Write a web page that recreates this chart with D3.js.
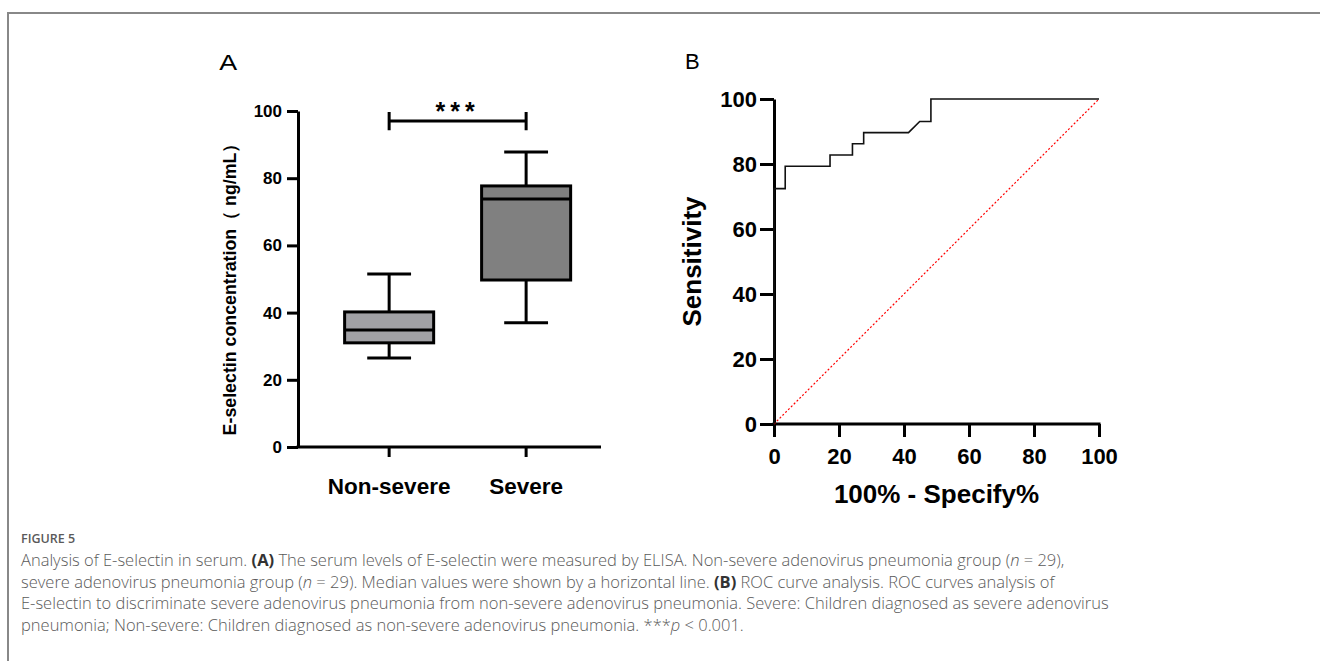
<!DOCTYPE html>
<html>
<head>
<meta charset="utf-8">
<script src="https://cdn.jsdelivr.net/npm/d3@7"></script>
<style>
	body{margin:0;background:#fff;}
	svg{display:block;}
	.axis text{font-family:'Liberation Sans',Arial,sans-serif;font-weight:bold;fill:#000;}
	.caption{font-family:'Open Sans',sans-serif;fill:#5a5a5a;}
</style>
</head>
<body>
<svg id="fig" width="1320" height="661"></svg>
<script>
// panel A - box plot
var groups = ['Non-severe','Severe'];
var whiskerLow = [26.5, 37.0];
var q1 = [31.0, 49.7];
var median = [34.8, 73.8];
var q3 = [40.2, 77.7];
var whiskerHigh = [51.5, 87.8];
var sigValue = 97;
var sigLabel = '***';
var boxTicks = [0,20,40,60,80,100];

// panel B - ROC curve
var rocFpr = [0,0,3.45,3.45,17.24,17.24,24.14,24.14,27.59,27.59,41.38,44.83,48.28,48.28,100];
var rocTpr = [0,72.41,72.41,79.31,79.31,82.76,82.76,86.21,86.21,89.66,89.66,93.10,93.10,100,100];
var rocTicks = [0,20,40,60,80,100];

var captionLines = [
	[['Analysis of E-selectin in serum. ',''],['(A)','b'],[' The serum levels of E-selectin were measured by ELISA. Non-severe adenovirus pneumonia group (',''],['n','i'],[' = 29),','']],
	[['severe adenovirus pneumonia group (',''],['n','i'],[' = 29). Median values were shown by a horizontal line. ',''],['(B)','b'],[' ROC curve analysis. ROC curves analysis of','']],
	[['E-selectin to discriminate severe adenovirus pneumonia from non-severe adenovirus pneumonia. Severe: Children diagnosed as severe adenovirus','']],
	[['pneumonia; Non-severe: Children diagnosed as non-severe adenovirus pneumonia. ***',''],['p','i'],[' < 0.001.','']]
];

var svg = d3.select('#fig');

// frame
svg.append('path')
	.attr('d','M8,661V13H1320')
	.attr('fill','none')
	.attr('stroke','#888')
	.attr('stroke-width',2);

//==== panel A
var yA = d3.scaleLinear().domain([0,100]).range([447,111]);
var xA = d3.scaleBand().domain(groups).range([298,601]).paddingInner(0).paddingOuter(0.106).align(0.78);
var boxColor = d3.scaleOrdinal().domain(groups).range(['#a1a1a5','#808080']);

var boxData = groups.map(function(g,i){
	return {g:g, lo:whiskerLow[i], q1:q1[i], med:median[i], q3:q3[i], hi:whiskerHigh[i]};
});

var panelA = svg.append('g');

panelA.append('text')
	.text('A')
	.attr('x',219).attr('y',70)
	.attr('font-family','Liberation Sans, Arial, sans-serif')
	.attr('font-size',22)
	.attr('transform','translate(-48,0) scale(1.22,1)');

var yAxisA = panelA.append('g')
	.attr('class','axis')
	.attr('transform','translate(298,0)')
	.call(d3.axisLeft(yA).tickValues(boxTicks).tickSize(11).tickPadding(5).tickSizeOuter(0));
yAxisA.selectAll('path,line').attr('stroke','#000').attr('stroke-width',3);
yAxisA.selectAll('text').attr('font-size',17);

var xAxisA = panelA.append('g')
	.attr('class','axis')
	.attr('transform','translate(0,447)')
	.call(d3.axisBottom(xA).tickSize(10).tickSizeOuter(0).tickPadding(21));
xAxisA.selectAll('path,line').attr('stroke','#000').attr('stroke-width',3);
xAxisA.select('.domain').attr('d','M'+(xA.range()[0]-1.5)+',0H'+xA.range()[1]);
xAxisA.selectAll('text').attr('font-size',22.5).attr('dy','0.71em');

panelA.append('text')
	.text('E-selectin concentration\uFF08 ng/mL\uFF09')
	.attr('transform','translate(236,285) rotate(-90)')
	.attr('text-anchor','middle')
	.attr('font-family','Liberation Sans, Arial, sans-serif')
	.attr('font-weight','bold')
	.attr('font-size',17.8);

var boxW = xA.bandwidth()*0.65;
var capW = xA.bandwidth()*0.32;

var boxes = panelA.selectAll('.box')
	.data(boxData)
	.enter()
	.append('g')
	.attr('class','box')
	.attr('transform',function(d){return 'translate('+(xA(d.g)+xA.bandwidth()/2)+',0)';});

boxes.append('line')
	.attr('x1',0).attr('x2',0)
	.attr('y1',function(d){return yA(d.lo);})
	.attr('y2',function(d){return yA(d.hi);})
	.attr('stroke','#000').attr('stroke-width',3);

boxes.selectAll('.cap')
	.data(function(d){return [d.lo,d.hi];})
	.enter()
	.append('line')
	.attr('class','cap')
	.attr('x1',-capW/2).attr('x2',capW/2)
	.attr('y1',function(v){return yA(v);})
	.attr('y2',function(v){return yA(v);})
	.attr('stroke','#000').attr('stroke-width',3);

boxes.append('rect')
	.attr('x',-boxW/2)
	.attr('width',boxW)
	.attr('y',function(d){return yA(d.q3);})
	.attr('height',function(d){return yA(d.q1)-yA(d.q3);})
	.attr('fill',function(d){return boxColor(d.g);})
	.attr('stroke','#000').attr('stroke-width',3);

boxes.append('line')
	.attr('x1',-boxW/2).attr('x2',boxW/2)
	.attr('y1',function(d){return yA(d.med);})
	.attr('y2',function(d){return yA(d.med);})
	.attr('stroke','#000').attr('stroke-width',3);

// significance bracket
var xL = xA(groups[0])+xA.bandwidth()/2;
var xR = xA(groups[1])+xA.bandwidth()/2;
var sig = panelA.append('g');
sig.append('path')
	.attr('d','M'+xL+','+yA(sigValue+2.7)+'V'+yA(sigValue-2.7)+'M'+xL+','+yA(sigValue)+'H'+xR+'M'+xR+','+yA(sigValue+2.7)+'V'+yA(sigValue-2.7))
	.attr('fill','none')
	.attr('stroke','#000').attr('stroke-width',3);
sig.append('text')
	.text(sigLabel)
	.attr('x',(xL+xR)/2)
	.attr('y',yA(sigValue)-1)
	.attr('text-anchor','middle')
	.attr('font-family','Liberation Sans, Arial, sans-serif')
	.attr('font-weight','bold')
	.attr('font-size',25)
	.attr('letter-spacing',5);

//==== panel B
var xB = d3.scaleLinear().domain([0,100]).range([774,1099]);
var yB = d3.scaleLinear().domain([0,100]).range([424,99]);

var panelB = svg.append('g');

panelB.append('text')
	.text('B')
	.attr('x',685).attr('y',69)
	.attr('font-family','Liberation Sans, Arial, sans-serif')
	.attr('font-size',22);

var yAxisB = panelB.append('g')
	.attr('class','axis')
	.attr('transform','translate(774,0)')
	.call(d3.axisLeft(yB).tickValues(rocTicks).tickSize(14).tickPadding(3).tickSizeOuter(0));
yAxisB.selectAll('path,line').attr('stroke','#000').attr('stroke-width',3);
yAxisB.selectAll('text').attr('font-size',22);

var xAxisB = panelB.append('g')
	.attr('class','axis')
	.attr('transform','translate(0,424)')
	.call(d3.axisBottom(xB).tickValues(rocTicks).tickSize(13).tickPadding(11).tickSizeOuter(0));
xAxisB.selectAll('path,line').attr('stroke','#000').attr('stroke-width',3);
xAxisB.select('.domain').attr('d','M'+(xB.range()[0]-1.5)+',0H'+(xB.range()[1]+1.5));
xAxisB.selectAll('text').attr('font-size',22);

panelB.append('text')
	.text('Sensitivity')
	.attr('transform','translate(701,'+yB(50)+') rotate(-90)')
	.attr('text-anchor','middle')
	.attr('font-family','Liberation Sans, Arial, sans-serif')
	.attr('font-weight','bold')
	.attr('font-size',26);

panelB.append('text')
	.text('100% - Specify%')
	.attr('x',xB(50))
	.attr('y',503)
	.attr('text-anchor','middle')
	.attr('font-family','Liberation Sans, Arial, sans-serif')
	.attr('font-weight','bold')
	.attr('font-size',26);

// reference diagonal
panelB.append('line')
	.attr('x1',xB(0)).attr('y1',yB(0))
	.attr('x2',xB(100)).attr('y2',yB(100))
	.attr('stroke','#f00')
	.attr('stroke-width',1.2)
	.attr('stroke-dasharray','2,2');

var rocLine = d3.line()
	.x(function(d){return xB(d[0]);})
	.y(function(d){return yB(d[1]);});

panelB.append('path')
	.datum(d3.zip(rocFpr,rocTpr))
	.attr('d',rocLine)
	.attr('fill','none')
	.attr('stroke','#111')
	.attr('stroke-width',1.6);

//==== caption
svg.append('text')
	.attr('class','caption')
	.text('FIGURE 5')
	.attr('x',21).attr('y',543)
	.attr('font-size',12.5)
	.attr('font-weight',600)
	.attr('fill','#777');

var capText = svg.selectAll('.capline')
	.data(captionLines)
	.enter()
	.append('text')
	.attr('class','caption capline')
	.attr('x',21)
	.attr('y',function(d,i){return 566+i*21.6;})
	.attr('font-size',16.5)
	.attr('font-weight',300);

capText.selectAll('tspan')
	.data(function(d){return d;})
	.enter()
	.append('tspan')
	.text(function(d){return d[0];})
	.attr('font-weight',function(d){return d[1]=='b'?'bold':null;})
	.attr('font-style',function(d){return d[1]=='i'?'italic':null;})
	.attr('fill',function(d){return d[1]=='b'?'#333':null;});
</script>
</body>
</html>
